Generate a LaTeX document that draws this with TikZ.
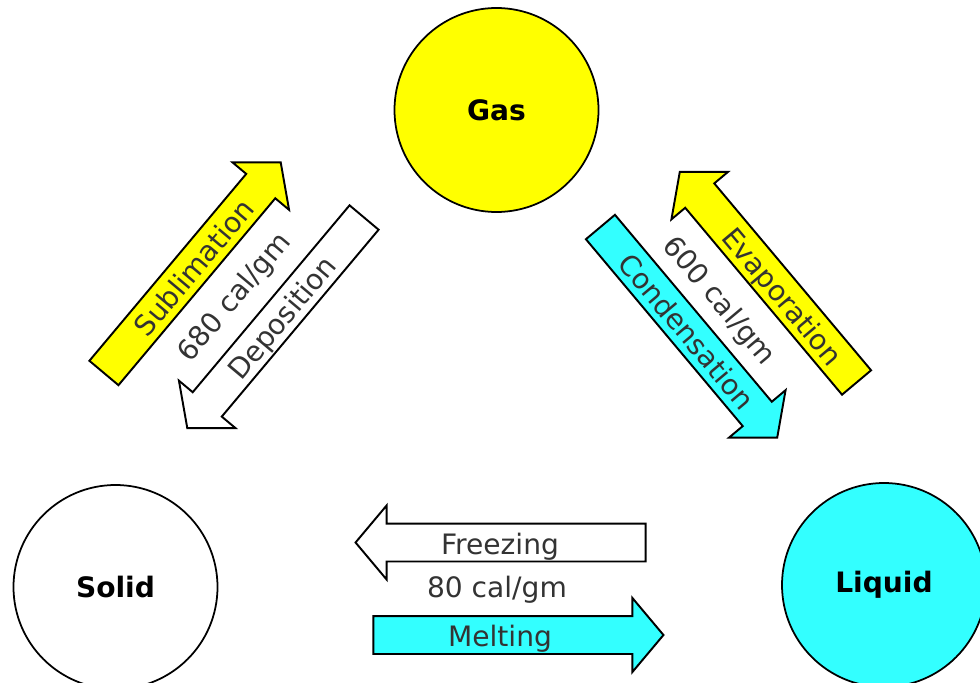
\documentclass[tikz,border=0pt]{standalone}
\usepackage{fontspec}
\setmainfont{DejaVu Sans}
\usetikzlibrary{shapes.arrows}
\definecolor{gasyellow}{RGB}{255,255,0}
\definecolor{liqcyan}{RGB}{51,255,255}

\begin{document}
\begin{tikzpicture}[
  every node/.style={font=\fontsize{16}{19}\selectfont},
  phase/.style={draw, circle, line width=1pt, minimum size=4.08cm, inner sep=0pt, font=\fontsize{16}{19}\selectfont\bfseries},
  flow/.style={draw, single arrow, line width=1.1pt, single arrow head extend=0.36cm, single arrow tip angle=100, minimum height=5.5cm, inner ysep=0pt, text height=0.59cm, text depth=0.13cm, text=black!80},
  revflow/.style={flow, shape border rotate=180},
  heat/.style={text=black!80},
]
  \useasboundingbox (0,0) rectangle (19.6,13.64);
  % the three phases
  \node[phase, fill=gasyellow] (gas) at (9.93,11.44) {Gas};
  \node[phase] (solid) at (2.31,1.90) {Solid};
  \node[phase, fill=liqcyan] (liquid) at (17.68,1.94) {Liquid};
  % solid <-> gas
  \node[flow, fill=gasyellow, rotate=50] (sub) at (3.744,8.165) {\hspace*{0.36cm}Sublimation};
  \node[revflow, fill=white, rotate=50] (dep) at (5.616,7.305) {Deposition};
  \node[heat, rotate=50] (qsub) at (4.70,7.68) {680 cal/gm};
  % liquid <-> gas
  \node[revflow, fill=gasyellow, rotate=-50] (evap) at (15.466,7.975) {\hspace*{0.64cm}Evaporation};
  \node[flow, fill=liqcyan, rotate=-50] (cond) at (13.674,7.115) {\hspace*{0.24cm}Condensation};
  \node[heat, rotate=-50] (qvap) at (14.37,7.61) {600 cal/gm};
  % solid <-> liquid
  \node[revflow, fill=white, minimum height=5.8cm] (freeze) at (10.17,2.79) {Freezing\hspace*{0.34cm}};
  \node[flow, fill=liqcyan, minimum height=5.8cm] (melt) at (10.21,0.94) {Melting\hspace*{0.42cm}};
  \node[heat] (qfus) at (9.94,1.84) {80 cal/gm};
\end{tikzpicture}
\end{document}
